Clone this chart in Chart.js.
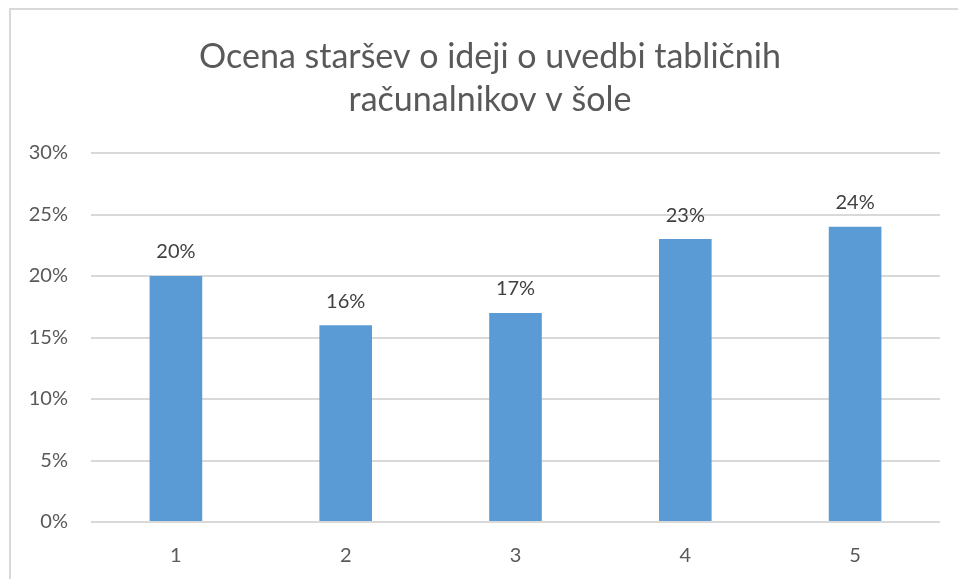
<!DOCTYPE html>
<html>
<head>
<meta charset="utf-8">
<script src="https://cdn.jsdelivr.net/npm/chart.js@4/dist/chart.umd.min.js"></script>
<style>
  html, body { margin: 0; padding: 0; background: #fff; overflow: hidden; }
  #wrap { position: relative; width: 958px; height: 579px; }
  #frame { position: absolute; left: 9px; top: 8px; width: 960px; height: 600px; border: 2px solid #d9d9d9; pointer-events: none; }
</style>
</head>
<body>
<div id="wrap">
  <canvas id="chart" width="958" height="579"></canvas>
  <div id="frame"></div>
</div>
<script>
const categories = ['1', '2', '3', '4', '5'];
const shares = [20, 16, 17, 23, 24];
const titleLines = ['Ocena staršev o ideji o uvedbi tabličnih', 'računalnikov v šole'];

const font = "Lato, 'Open Sans', sans-serif";

// title, centred on the frame rather than the canvas
const chartTitle = {
    id: 'chartTitle',
    afterDraw(chart) {
        const ctx = chart.ctx;
        ctx.save();
        ctx.font = '34px ' + font;
        ctx.fillStyle = '#595959';
        ctx.textAlign = 'center';
        ctx.textBaseline = 'middle';
        titleLines.forEach((line, i) => {
            ctx.fillText(line, 490, 57 + i * 43);
        });
        ctx.restore();
    }
};

// labels above each bar
const valueLabels = {
    id: 'valueLabels',
    afterDatasetsDraw(chart) {
        const ctx = chart.ctx;
        const meta = chart.getDatasetMeta(0);
        ctx.save();
        ctx.font = '20px ' + font;
        ctx.fillStyle = '#404040';
        ctx.textAlign = 'center';
        ctx.textBaseline = 'middle';
        meta.data.forEach((bar, i) => {
            ctx.fillText(shares[i] + '%', bar.x, bar.y - 24);
        });
        ctx.restore();
    }
};

new Chart(document.getElementById('chart'), {
    type: 'bar',
    data: {
        labels: categories,
        datasets: [{
            data: shares,
            backgroundColor: '#5b9bd5',
            categoryPercentage: 1,
            barPercentage: 0.31
        }]
    },
    options: {
        responsive: false,
        animation: false,
        layout: { padding: { left: 0, right: 18, top: 153, bottom: 0 } },
        plugins: {
            legend: { display: false },
            tooltip: { enabled: false },
            title: { display: false }
        },
        scales: {
            x: {
                grid: { display: false },
                border: { display: false },
                ticks: { color: '#595959', font: { family: font, size: 20 }, padding: 14 },
                afterFit(scale) { scale.height = 57; }
            },
            y: {
                min: 0,
                max: 30,
                grid: { color: '#d9d9d9', lineWidth: 2, drawTicks: false },
                border: { display: false },
                ticks: {
                    stepSize: 5,
                    color: '#595959',
                    font: { family: font, size: 20 },
                    padding: 23,
                    callback: v => v + '%'
                },
                afterFit(scale) { scale.width = 91; }
            }
        }
    },
    plugins: [valueLabels, chartTitle]
});
</script>
</body>
</html>
